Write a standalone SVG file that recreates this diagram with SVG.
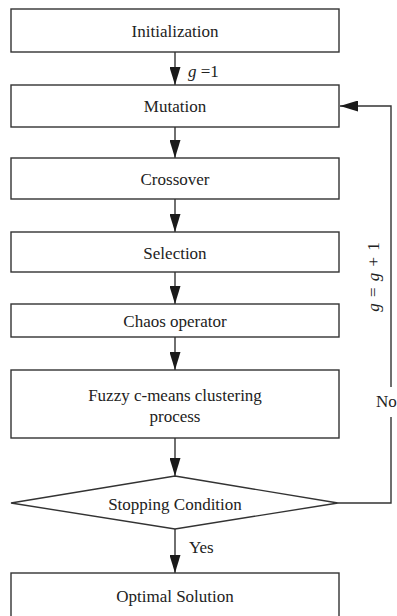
<svg xmlns="http://www.w3.org/2000/svg" width="397" height="616" viewBox="0 0 397 616">
<style>
.box{fill:#fff;stroke:#333;stroke-width:1.4}
.lbl{font-family:'Liberation Serif','Times New Roman','DejaVu Serif',serif;font-size:17px;fill:#222;text-anchor:middle}
.small{font-family:'Liberation Serif','Times New Roman','DejaVu Serif',serif;font-size:17px;fill:#222}
.conn{fill:none;stroke:#333;stroke-width:1.4}
</style>
<defs>
<marker id="ah" markerUnits="userSpaceOnUse" markerWidth="18" markerHeight="11" refX="18" refY="5.5" orient="auto">
<path d="M0,0 L18,5.5 L0,11 z" fill="#1a1a1a"/>
</marker>
</defs>
<rect width="397" height="616" fill="#fff"/>
<g id="connectors">
<line class="conn" x1="175" y1="52" x2="175" y2="85" marker-end="url(#ah)"/>
<line class="conn" x1="175" y1="127" x2="175" y2="158" marker-end="url(#ah)"/>
<line class="conn" x1="175" y1="199" x2="175" y2="232" marker-end="url(#ah)"/>
<line class="conn" x1="175" y1="272" x2="175" y2="304" marker-end="url(#ah)"/>
<line class="conn" x1="175" y1="337" x2="175" y2="370" marker-end="url(#ah)"/>
<line class="conn" x1="175" y1="438" x2="175" y2="476" marker-end="url(#ah)"/>
<line class="conn" x1="175" y1="529" x2="175" y2="573" marker-end="url(#ah)"/>
<polyline class="conn" points="338,503 391,503 391,417"/>
<polyline class="conn" points="391,387 391,106 340,106" marker-end="url(#ah)"/>
<text class="small" x="188" y="77"><tspan font-style="italic">g</tspan> =1</text>
<text class="small" x="189" y="553">Yes</text>
<text class="small" x="376" y="407">No</text>
<text class="small" text-anchor="middle" word-spacing="2" transform="translate(379,277) rotate(-90)"><tspan font-style="italic">g</tspan> = <tspan font-style="italic">g</tspan> + 1</text>
</g>
<g id="initialization">
<rect class="box" x="11" y="9" width="328" height="43"/>
<text class="lbl" x="175" y="37">Initialization</text>
</g>
<g id="mutation">
<rect class="box" x="11" y="85" width="328" height="42"/>
<text class="lbl" x="175" y="112">Mutation</text>
</g>
<g id="crossover">
<rect class="box" x="11" y="158" width="328" height="41"/>
<text class="lbl" x="175" y="185">Crossover</text>
</g>
<g id="selection">
<rect class="box" x="11" y="232" width="328" height="40"/>
<text class="lbl" x="175" y="259">Selection</text>
</g>
<g id="chaos">
<rect class="box" x="11" y="304" width="328" height="33"/>
<text class="lbl" x="175" y="327">Chaos operator</text>
</g>
<g id="fuzzy">
<rect class="box" x="11" y="370" width="328" height="68"/>
<text class="lbl" x="175" y="401">Fuzzy c-means clustering</text>
<text class="lbl" x="175" y="422">process</text>
</g>
<g id="stopping">
<polygon class="box" points="175,476 338,503 175,529 11,503"/>
<text class="lbl" x="175" y="510">Stopping Condition</text>
</g>
<g id="optimal">
<rect class="box" x="11" y="573" width="328" height="46"/>
<text class="lbl" x="175" y="602">Optimal Solution</text>
</g>
</svg>
